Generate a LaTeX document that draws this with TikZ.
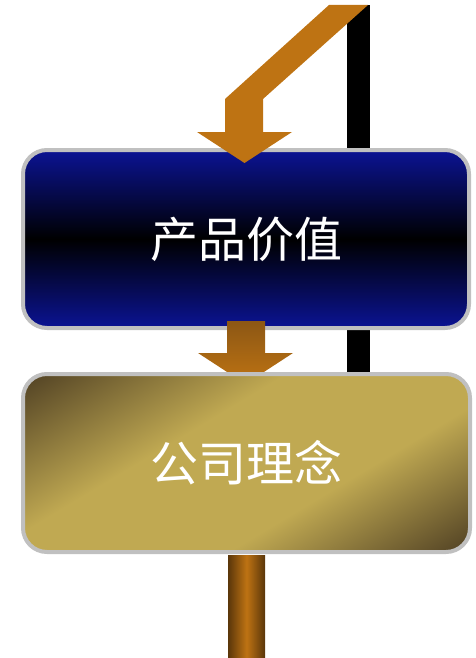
\documentclass[tikz,border=0pt]{standalone}
\usepackage{fontspec}
\newfontfamily\cjk{Noto Sans CJK SC}
\definecolor{orng}{HTML}{BE7313}
\definecolor{brn}{HTML}{8C5714}
\definecolor{dkbrn}{HTML}{5A360A}
\definecolor{blu}{HTML}{0B1394}
\definecolor{gold}{HTML}{C0A952}
\definecolor{olive}{HTML}{564626}
\definecolor{rim}{HTML}{C0C0C0}
\pgfdeclareverticalshading{bluesh}{100bp}{color(0bp)=(blu); color(25bp)=(blu); color(50bp)=(black); color(75bp)=(blu); color(100bp)=(blu)}
\pgfdeclareverticalshading{goldsh}{100bp}{color(0bp)=(olive); color(17bp)=(olive); color(38bp)=(gold); color(60bp)=(gold); color(83bp)=(olive); color(100bp)=(olive)}
\tikzset{
  box/.style={draw=rim, line width=4pt, rounded corners=24pt, text=white,
    font=\cjk\fontsize{48}{52}\selectfont, inner sep=0pt},
}
\begin{document}
\begin{tikzpicture}[x=1pt,y=-1pt]
\useasboundingbox (0,0) rectangle (476,658);
% black bar behind
\fill[black] (347,5) rectangle (370,372);
% box 1
\node[box, shading=bluesh, minimum width=446pt, minimum height=178pt] (p) at (246,239) {产品价值};
% top arrow
\fill[orng] (329,5) -- (368,5) -- (263,99) -- (263,132) -- (292,132) -- (244.5,163) -- (197,132) -- (225,132) -- (225,99) -- cycle;
% middle arrow
\shade[top color=brn, bottom color=orng] (227,321) -- (265,321) -- (265,353) -- (293,353) -- (245.5,384) -- (198,353) -- (227,353) -- cycle;
% box 2
\node[box, shading=goldsh, shading angle=31, minimum width=447pt, minimum height=178pt] (c) at (246.5,463) {公司理念};
% bottom bar
\shade[left color=dkbrn, right color=dkbrn, middle color=orng] (228,555) rectangle (265,658);
\end{tikzpicture}
\end{document}
